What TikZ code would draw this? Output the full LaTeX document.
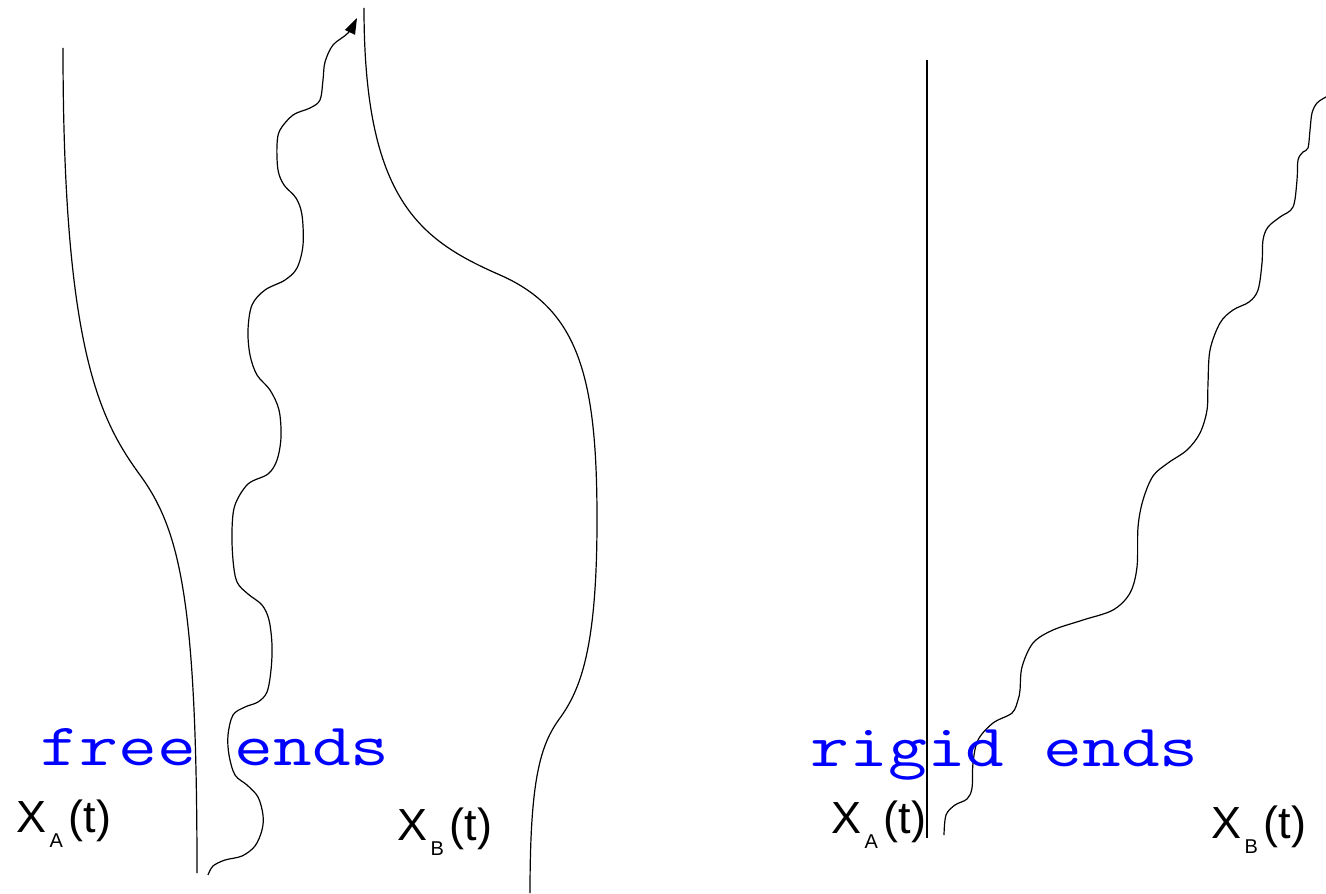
\documentclass[tikz,border=0pt]{standalone}
\usepackage{fontspec}
\setmainfont{Liberation Sans}
\usetikzlibrary{arrows.meta}
\newcommand{\wline}[1]{X\kern1.5pt\raisebox{-7.5pt}{\fontsize{10}{10}\selectfont #1}\kern3pt(t)}

\begin{document}
\begin{tikzpicture}[x=0.5pt, y=-0.5pt, line width=0.6pt,
  lbl/.style={anchor=base west, inner sep=0pt, font=\fontsize{22.5}{22.5}\selectfont},
  endtag/.style={anchor=base west, inner sep=0pt, blue, font=\ttfamily\fontsize{30}{30}\selectfont, xscale=1.255, transform shape},
  worldline/.style={smooth, tension=0.55}]
  \useasboundingbox (0,0) rectangle (1326,893);

  \draw (63,48) .. controls (63,350) and (100,420) .. (140,475)
    .. controls (180,530) and (197,600) .. (197,873);
  \draw (364,8) .. controls (364,200) and (420,240) .. (500,275)
    .. controls (580,310) and (597,380) .. (597,520)
    .. controls (597,650) and (580,690) .. (560,718)
    .. controls (540,745) and (530,780) .. (530,893);
  \draw[-{Triangle[length=8pt,width=5.5pt]}] plot[worldline] coordinates {(208,875) (213,866) (225,860) (242,856) (255,846) (262,830) (263,815) (258,797) (247,785) (235,775) (229,755) (228,735) (233,715) (245,707) (258,702) (267,692) (271,670) (272,645) (269,620) (262,605) (248,594) (237,582) (233,560) (232,530) (235,505) (248,484) (268,474) (277,460) (281,437) (279,410) (270,390) (257,375) (250,355) (248,330) (252,305) (265,290) (285,280) (297,268) (303,245) (302,215) (296,198) (284,185) (278,170) (277,145) (280,130) (293,115) (310,108) (320,100) (323,80) (325,62) (333,45) (348,33) (357,18)};

  \draw (927,60) -- (927,838);
  \draw plot[worldline] coordinates {(944,835) (946,815) (955,805) (967,799) (972,788) (973,763) (978,740) (993,723) (1012,713) (1018,700) (1020,690) (1022,667) (1033,643) (1053,630) (1083,620) (1113,610) (1130,593) (1137,567) (1138,527) (1143,500) (1153,476) (1168,463) (1187,450) (1200,433) (1207,410) (1208,383) (1210,350) (1220,323) (1233,310) (1249,302) (1258,290) (1262,263) (1263,240) (1268,227) (1280,217) (1293,207) (1297,180) (1298,160) (1303,152) (1308,148) (1310,130) (1312,113) (1317,103) (1326,97)};

  \node[endtag] (free) at (40,765) {free ends};
  \node[endtag] (rigid) at (810,766) {rigid ends};
  \node[lbl] (xa1) at (16,832) {\wline{A}};
  \node[lbl] (xb1) at (397,840) {\wline{B}};
  \node[lbl] (xa2) at (831,833) {\wline{A}};
  \node[lbl] (xb2) at (1211,838) {\wline{B}};
\end{tikzpicture}
\end{document}
